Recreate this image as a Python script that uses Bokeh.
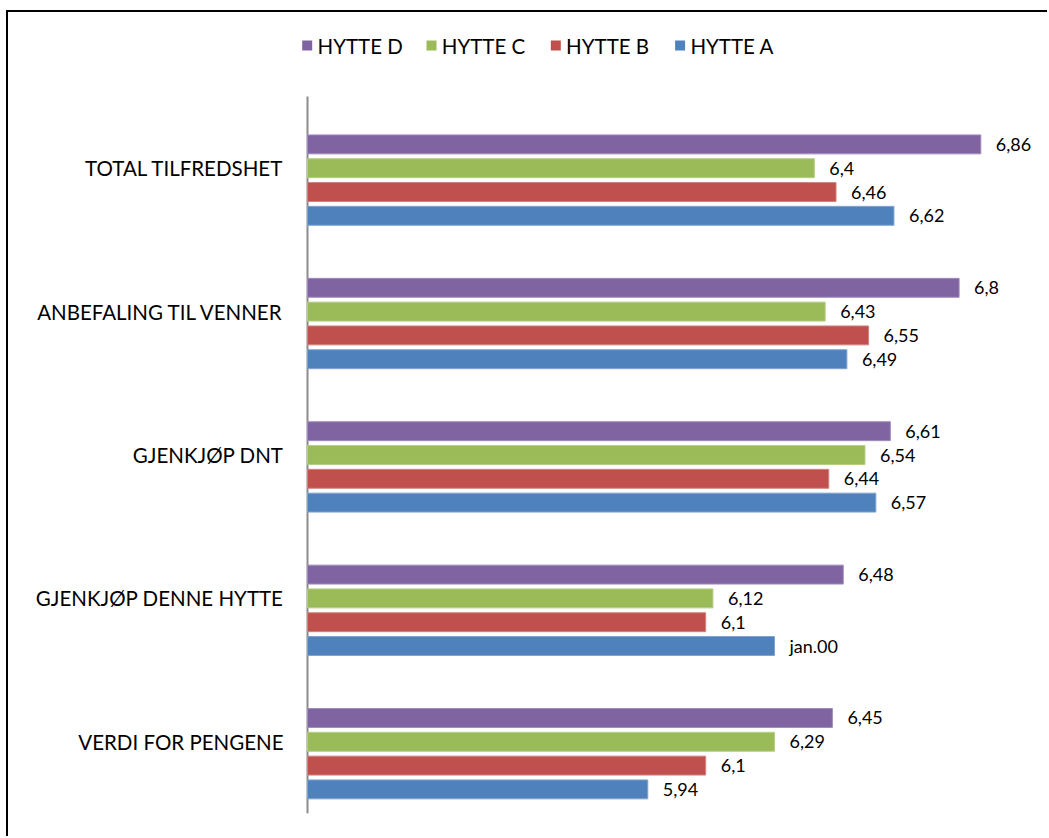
from bokeh.plotting import figure
from bokeh.models import ColumnDataSource, LabelSet, Range1d, FixedTicker
from bokeh.transform import dodge
from bokeh.core.properties import value
from bokeh.embed import file_html
from bokeh.resources import INLINE

categories = ["TOTAL TILFREDSHET", "ANBEFALING TIL VENNER", "GJENKJØP DNT",
              "GJENKJØP DENNE HYTTE", "VERDI FOR PENGENE"]
series = ["HYTTE D", "HYTTE C", "HYTTE B", "HYTTE A"]
hytte_d = [6.86, 6.80, 6.61, 6.48, 6.45]
hytte_c = [6.40, 6.43, 6.54, 6.12, 6.29]
hytte_b = [6.46, 6.55, 6.44, 6.10, 6.10]
hytte_a = [6.62, 6.49, 6.57, 6.29, 5.94]
# labels as printed in the original (one cell was formatted as a date)
label_overrides = {("HYTTE A", "GJENKJØP DENNE HYTTE"): "jan.00"}

values = {"HYTTE D": hytte_d, "HYTTE C": hytte_c, "HYTTE B": hytte_b, "HYTTE A": hytte_a}
colors = {"HYTTE D": "#8064A2", "HYTTE C": "#9BBB59", "HYTTE B": "#C0504D", "HYTTE A": "#4F81BD"}
edge = {"HYTTE D": "#A08CBC", "HYTTE C": "#B5CE84", "HYTTE B": "#D08482", "HYTTE A": "#7FA3D0"}
offsets = {"HYTTE D": 0.166, "HYTTE C": 0.0, "HYTTE B": -0.166, "HYTTE A": -0.332}

FONT = "Lato"
BASE = 5.0            # value where the bars start (axis position)
PX_PER_UNIT = 362.0   # horizontal scale in pixels per value unit
BAND_PX = 143.4       # pixels per category band
n = len(categories)
ypos = [n - 1 - i for i in range(n)]   # top category highest

# ranges: frame extends a little left of the axis and up over the legend strip
x_start = BASE - 17 / PX_PER_UNIT
y_top = (n - 0.5) + 84 / BAND_PX

p = figure(width=1041, height=826, output_backend="svg", toolbar_location=None,
           x_range=Range1d(x_start, 7.0), y_range=Range1d(-0.5, y_top),
           min_border_left=282, min_border_right=18, min_border_top=0, min_border_bottom=25)
p.margin = (10, 0, 0, 6)
p.styles = {"border-left": "2px solid #000", "border-top": "2px solid #000"}
p.outline_line_color = None
p.xgrid.visible = False
p.ygrid.visible = False
p.xaxis.visible = False
p.yaxis.ticker = FixedTicker(ticks=ypos)
p.yaxis.major_label_overrides = {y: c for y, c in zip(ypos, categories)}
p.yaxis.axis_line_color = None
p.yaxis.major_tick_line_color = None
p.yaxis.minor_tick_line_color = None
p.yaxis.major_tick_out = 0
p.yaxis.major_tick_in = 0
p.yaxis.major_label_standoff = 7
p.yaxis.major_label_text_font = FONT
p.yaxis.major_label_text_font_size = "20.5px"
p.yaxis.major_label_text_color = "#000000"

# category axis line at the bar base
p.segment(x0=[BASE], y0=[-0.5], x1=[BASE], y1=[n - 0.5], line_color="#8C8C8C", line_width=2)

for s in series:
    txt = []
    for c, v in zip(categories, values[s]):
        txt.append(label_overrides.get((s, c), f"{v:g}".replace(".", ",")))
    src = ColumnDataSource(dict(pos=ypos, val=values[s], txt=txt))
    p.hbar(y=dodge("pos", offsets[s]), left=BASE, right="val",
           height=0.132, source=src, fill_color=colors[s], line_color=edge[s], line_width=1)
    lbl = LabelSet(x="val", y=dodge("pos", offsets[s]), text="txt", source=src,
                   x_offset=15, text_baseline="middle", text_align="left",
                   text_font=value(FONT), text_font_size=value("18px"), text_color="#000000")
    p.add_layout(lbl)

# legend row above the bars
def px_to_x(page_x):
    return BASE + (page_x - 307) / PX_PER_UNIT

leg_y = (n - 0.5) + 51 / BAND_PX
pitch = 124.3
sw_x = [px_to_x(306.7 + i * pitch) for i in range(len(series))]
tx_x = [px_to_x(317 + i * pitch) for i in range(len(series))]
p.scatter(x=sw_x, y=[leg_y] * len(series), marker="square", size=10,
          fill_color=[colors[s] for s in series], line_color=None)
p.text(x=tx_x, y=[leg_y] * len(series), text=series, text_baseline="middle",
       text_align="left", text_font=value(FONT), text_font_size=value("20.5px"),
       text_color="#000000")

open("out.html", "w").write(file_html(p, INLINE))
